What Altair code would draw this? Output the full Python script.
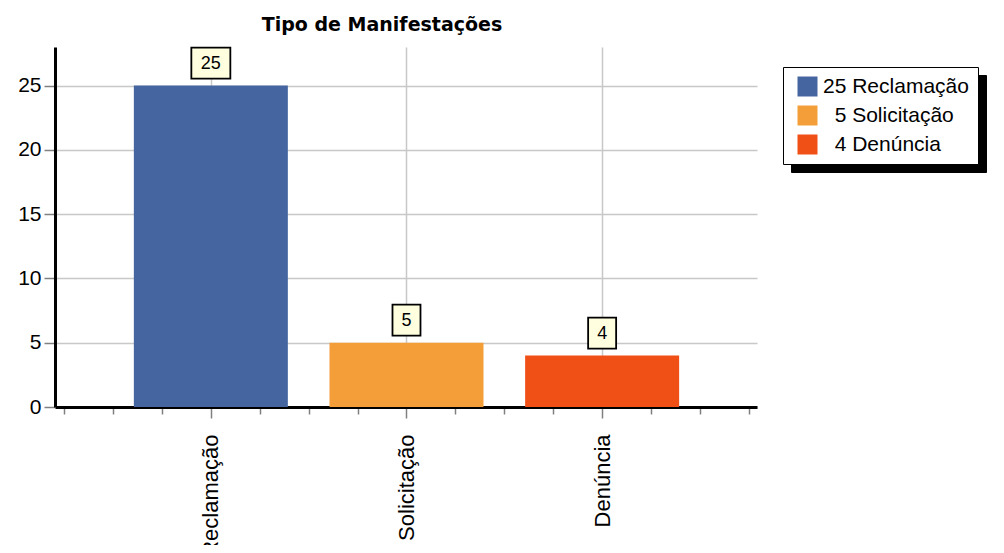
import json
import altair as alt
import pandas as pd

categories = ["Reclamação", "Solicitação", "Denúncia"]
values = [25, 5, 4]
colors = ["#4565A0", "#F39E38", "#F04F16"]
y_tick_values = [0, 1.25, 2.5, 3.75, 5, 6.25, 7.5, 8.75, 10, 11.25, 12.5, 13.75, 15,
                 16.25, 17.5, 18.75, 20, 21.25, 22.5, 23.75, 25, 26.25, 27.5]
x_tick_values = [0.25, 0.5, 0.75, 1, 1.25, 1.5, 1.75, 2, 2.25, 2.5, 2.75, 3, 3.25, 3.5, 3.75]

# a zero-width char keeps the two no-break spaces (one digit wide) from being trimmed
legend_labels = [("\u200b\u00a0\u00a0" if v < 10 else "") + f"{v} {c}"
                 for v, c in zip(values, categories)]

df = pd.DataFrame({
    "categoria": categories,
    "valor": values,
    "pos": list(range(1, len(categories) + 1)),
    "legenda": legend_labels,
})

FONT = "Liberation Sans"
cat_js = json.dumps(categories, ensure_ascii=False)

x_scale = alt.Scale(domain=[0.229, 3.766], nice=False, zero=False)
y_scale = alt.Scale(domain=[0, 28], nice=False)

x_axis = alt.Axis(
    title=None, values=x_tick_values,
    labelExpr=f"datum.value % 1 === 0 ? {cat_js}[datum.value - 1] : ''",
    labelAngle=-90, labelFont=FONT, labelFontSize=22, labelColor="black",
    labelPadding=16,
    domainColor="black", domainWidth=3,
    tickColor="#808080", tickWidth=1.5,
    tickSize={"condition": {"test": "datum.value % 1 === 0", "value": 11}, "value": 7},
    grid=True, gridColor="#c8c8c8", gridWidth=1.5,
    gridOpacity={"condition": {"test": "datum.value % 1 === 0", "value": 1}, "value": 0},
)
y_axis = alt.Axis(
    title=None, values=y_tick_values,
    labelExpr="datum.value % 5 === 0 ? datum.label : ''",
    labelFont=FONT, labelFontSize=21, labelColor="black", labelPadding=3,
    domainColor="black", domainWidth=3,
    tickColor="#808080", tickWidth=1.5,
    tickSize={"condition": {"test": "datum.value % 5 === 0", "value": 11}, "value": 6},
    grid=True, gridColor="#c8c8c8", gridWidth=1.5,
    gridOpacity={"condition": {"test": "datum.value % 5 === 0", "value": 1}, "value": 0},
)

base = alt.Chart(df)

bars = base.mark_bar(width=154).encode(
    x=alt.X("pos:Q", scale=x_scale, axis=x_axis),
    y=alt.Y("valor:Q", scale=y_scale, axis=y_axis),
    fill=alt.Fill("legenda:N", scale=alt.Scale(domain=legend_labels, range=colors),
                  legend=alt.Legend(
                      title=None, orient="none", legendX=728, legendY=20, zindex=1,
                      fillColor="white", strokeColor="black", padding=9,
                      symbolType="square", symbolSize=400, symbolOffset=5,
                      symbolStrokeWidth=0, labelOffset=5, rowPadding=7,
                      labelFont=FONT, labelFontSize=21, labelColor="black",
                      labelLimit=400)),
)

# drop shadow behind the legend box
shadow = base.mark_point(opacity=0).encode(
    x=alt.X("pos:Q", scale=x_scale),
    y=alt.Y("valor:Q", scale=y_scale),
    color=alt.Color("legenda:N", scale=alt.Scale(domain=legend_labels, range=["black"] * 3),
                    legend=alt.Legend(
                        title=None, orient="none", legendX=736, legendY=28, zindex=0,
                        fillColor="black", strokeColor="black", padding=9,
                        symbolType="square", symbolSize=400, symbolOffset=151,
                        symbolStrokeWidth=0, labelOffset=5, rowPadding=7,
                        labelExpr="''", labelFontSize=21)),
)

boxes = base.transform_calculate(
    caixa="length(toString(datum.valor)) > 1 ? 'M-1.258,-1L1.258,-1L1.258,1L-1.258,1Z' : 'M-0.903,-1L0.903,-1L0.903,1L-0.903,1Z'"
).mark_point(filled=True, fill="#ffffe0", stroke="black", strokeWidth=1.8,
             opacity=1, size=961, yOffset=-22.5).encode(
    x=alt.X("pos:Q", scale=x_scale),
    y=alt.Y("valor:Q", scale=y_scale),
    shape=alt.Shape("caixa:N", scale=None),
)

labels = base.mark_text(font=FONT, fontSize=18, color="black", baseline="middle",
                        align="center", yOffset=-22).encode(
    x=alt.X("pos:Q", scale=x_scale),
    y=alt.Y("valor:Q", scale=y_scale),
    text=alt.Text("valor:Q"),
)

chart = alt.layer(bars, shadow, boxes, labels).resolve_scale(
    fill="independent", color="independent"
).properties(
    width=702, height=360,
    title=alt.TitleParams("Tipo de Manifestações", font="DejaVu Sans", fontSize=19,
                          fontWeight="bold", anchor="middle", dx=-24, offset=9,
                          color="black"),
    autosize="none",
    padding={"left": 47, "top": 39, "right": 230, "bottom": 138},
).configure_view(stroke=None)

chart.save("out.html", embed_options={"renderer": "svg", "actions": False})
